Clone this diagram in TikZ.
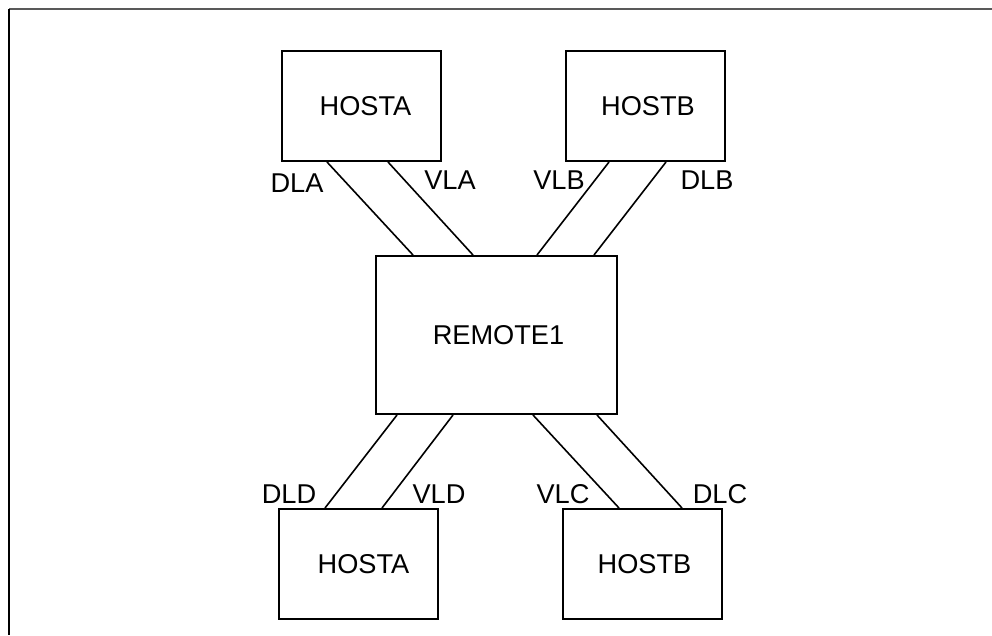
\documentclass[tikz,border=0pt]{standalone}
\usepackage{fontspec}
\setmainfont{Liberation Sans}
\usetikzlibrary{calc}
\begin{document}
\begin{tikzpicture}[x=1pt,y=-1pt,
  box/.style={draw,line width=2pt,minimum width=159pt,minimum height=110pt,anchor=north west,inner sep=0pt,font=\fontsize{27.2}{30}\selectfont},
  bigbox/.style={box,minimum width=241pt,minimum height=158pt},
  lbl/.style={font=\fontsize{27.2}{30}\selectfont,inner sep=0pt},
  link/.style={line width=1.6pt}]
\useasboundingbox (0,0) rectangle (992,635);
\draw[line width=1.5pt,black!65] (9,9) -- (992,9);
\draw[line width=1.5pt] (9,9) -- (9,635);
\node[box] (ha) at (281,50) {\hspace{8pt}HOSTA};
\node[box] (hb) at (565,50) {\hspace{5pt}HOSTB};
\node[bigbox] (rem) at (375,255) {\hspace{4pt}REMOTE1};
\node[box] (ha2) at (278,508) {\hspace{10pt}HOSTA};
\node[box] (hb2) at (562,508) {\hspace{4pt}HOSTB};
% top links
\draw[link] ($(ha.south west)+(46,0)$) -- ($(rem.north west)+(38,0)$);
\draw[link] ($(ha.south west)+(107,0)$) -- ($(rem.north west)+(98,0)$);
\draw[link] ($(hb.south west)+(44,0)$) -- ($(rem.north west)+(162,0)$);
\draw[link] ($(hb.south west)+(101,0)$) -- ($(rem.north west)+(219,0)$);
% bottom links
\draw[link] ($(rem.south west)+(22,0)$) -- ($(ha2.north west)+(47,0)$);
\draw[link] ($(rem.south west)+(78,0)$) -- ($(ha2.north west)+(104,0)$);
\draw[link] ($(rem.south west)+(158,0)$) -- ($(hb2.north west)+(57,0)$);
\draw[link] ($(rem.south west)+(222,0)$) -- ($(hb2.north west)+(120,0)$);
% labels
\node[lbl] (tdla) at (297,183) {DLA};
\node[lbl] (tvla) at (450,180) {VLA};
\node[lbl] (tvlb) at (559,180) {VLB};
\node[lbl] (tdlb) at (707,180) {DLB};
\node[lbl] (tdld) at (289,494) {DLD};
\node[lbl] (tvld) at (439,494) {VLD};
\node[lbl] (tvlc) at (563,494) {VLC};
\node[lbl] (tdlc) at (720,494) {DLC};
\end{tikzpicture}
\end{document}
